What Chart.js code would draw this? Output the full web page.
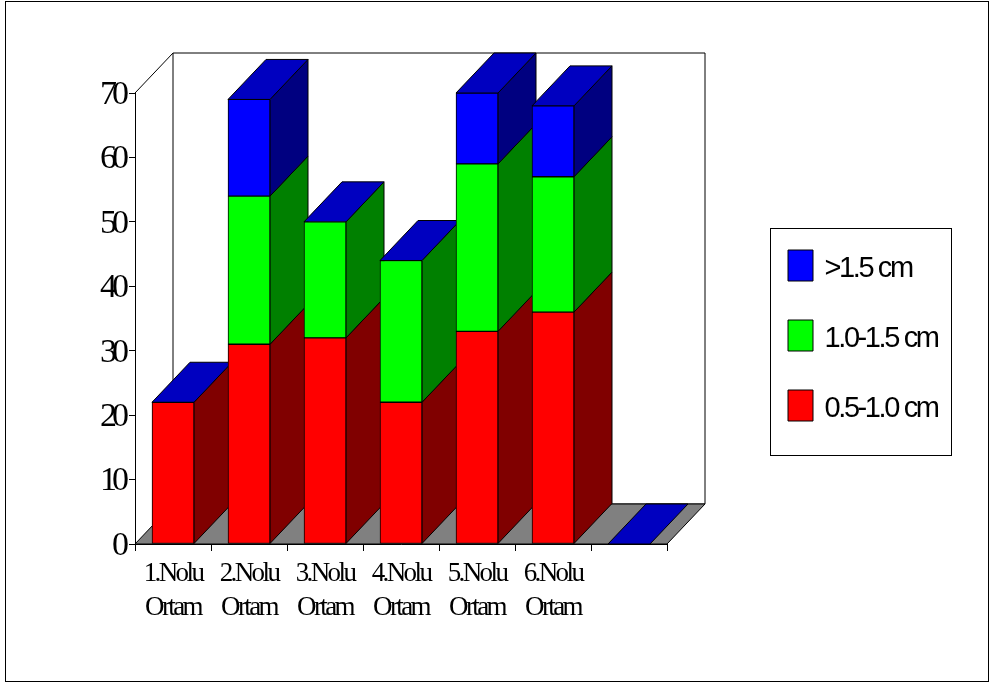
<!DOCTYPE html>
<html>
<head>
<meta charset="utf-8">
<title>Ortam</title>
<script src="https://cdn.jsdelivr.net/npm/chart.js@4"></script>
<style>
  html, body { margin: 0; padding: 0; background: #fff; }
  canvas { display: block; }
</style>
</head>
<body>
<canvas id="chart" width="997" height="682"></canvas>
<script>
const categories = [['1.Nolu', 'Ortam'], ['2.Nolu', 'Ortam'], ['3.Nolu', 'Ortam'], ['4.Nolu', 'Ortam'], ['5.Nolu', 'Ortam'], ['6.Nolu', 'Ortam'], ''];
const redValues = [22, 31, 32, 22, 33, 36, 0];
const greenValues = [0, 23, 18, 22, 26, 21, 0];
const blueValues = [0, 15, 0, 0, 11, 11, 0];
const yTicks = [0, 10, 20, 30, 40, 50, 60, 70];

// 3D look: everything behind the front faces is derived from the scales
const DEPTH_X = 38;
const DEPTH_Y = 40;
const sideColors = ['#800000', '#008000', '#000080'];
const TOP_COLOR = '#0000c0';

function poly(ctx, pts, fill) {
  ctx.beginPath();
  pts.forEach((p, i) => i ? ctx.lineTo(p[0], p[1]) : ctx.moveTo(p[0], p[1]));
  ctx.closePath();
  if (fill) {
    ctx.fillStyle = fill;
    ctx.fill();
  }
  ctx.stroke();
}

// the original text is squeezed, Chart.js has no option for that
function spaced(ctx, target, name, spacing) {
  const orig = target[name];
  target[name] = function (...args) {
    ctx.letterSpacing = spacing;
    orig.apply(this, args);
    ctx.letterSpacing = '0px';
  };
}

const depthPlugin = {
  id: 'depth',
  afterLayout(chart) {
    // legend sits in its own frame on the right, not in the plot
    const legend = chart.legend;
    legend.left = 749;
    legend.top = 211;
    legend.right = 996;
    legend.bottom = 500;
    if (!chart.$spaced) {
      chart.$spaced = true;
      const ctx = chart.ctx;
      spaced(ctx, chart.scales.y, 'drawLabels', '-5px');
      spaced(ctx, chart.scales.x, 'drawLabels', '-2.6px');
      spaced(ctx, legend, '_draw', '-2.4px');
      // legend text sits a little below the middle of its swatch
      const legendDraw = legend._draw;
      legend._draw = function () {
        const fillText = ctx.fillText;
        ctx.fillText = function (text, x, y, w) {
          fillText.call(ctx, text, x - 3, y + 3, w);
        };
        legendDraw.call(this);
        delete ctx.fillText;
      };
    }
  },
  beforeDraw(chart) {
    const ctx = chart.ctx;
    ctx.save();
    ctx.fillStyle = '#fff';
    ctx.fillRect(0, 0, chart.width, chart.height);
    ctx.strokeStyle = '#000';
    ctx.lineWidth = 1;
    ctx.strokeRect(5.5, 1.5, 983, 680);
    ctx.strokeRect(770.5, 228.5, 181, 227);
    ctx.restore();
  },
  beforeDatasetsDraw(chart) {
    const ctx = chart.ctx;
    const { left, right, top, bottom } = chart.chartArea;
    ctx.save();
    ctx.strokeStyle = '#000';
    ctx.lineWidth = 1;
    // back wall, floor, and the top-left diagonal
    poly(ctx, [[left + DEPTH_X, top - DEPTH_Y], [right + DEPTH_X, top - DEPTH_Y], [right + DEPTH_X, bottom - DEPTH_Y], [left + DEPTH_X, bottom - DEPTH_Y]], '#fff');
    poly(ctx, [[left, bottom], [left + DEPTH_X, bottom - DEPTH_Y], [right + DEPTH_X, bottom - DEPTH_Y], [right, bottom]], '#808080');
    ctx.beginPath();
    ctx.moveTo(left, top);
    ctx.lineTo(left + DEPTH_X, top - DEPTH_Y);
    ctx.stroke();

    // left to right, so each bar covers the side of the one before it
    categories.forEach((_, i) => {
      chart.data.datasets.forEach((ds, d) => {
        const el = chart.getDatasetMeta(d).data[i];
        const r = el.x + el.width / 2;
        if (el.base - el.y > 0) {
          poly(ctx, [[r, el.y], [r + DEPTH_X, el.y - DEPTH_Y], [r + DEPTH_X, el.base - DEPTH_Y], [r, el.base]], sideColors[d]);
        }
      });
      const last = chart.getDatasetMeta(chart.data.datasets.length - 1).data[i];
      const l = last.x - last.width / 2;
      const r = last.x + last.width / 2;
      poly(ctx, [[l, last.y], [l + DEPTH_X, last.y - DEPTH_Y], [r + DEPTH_X, last.y - DEPTH_Y], [r, last.y]], TOP_COLOR);
    });
    ctx.restore();
  },
};

new Chart(document.getElementById('chart'), {
  type: 'bar',
  data: {
    labels: categories,
    datasets: [
      { label: '0.5-1.0 cm', data: redValues, backgroundColor: '#ff0000' },
      { label: '1.0-1.5 cm', data: greenValues, backgroundColor: '#00ff00' },
      { label: '>1.5 cm', data: blueValues, backgroundColor: '#0000ff' },
    ],
  },
  options: {
    responsive: false,
    animation: false,
    devicePixelRatio: 1,
    barThickness: 42,
    borderColor: '#000',
    borderWidth: 1,
    borderSkipped: false,
    layout: { padding: { left: 0, right: 330, top: 93, bottom: 0 } },
    plugins: {
      tooltip: { enabled: false },
      legend: {
        position: 'chartArea',
        align: 'start',
        reverse: true,
        labels: {
          boxWidth: 25,
          boxHeight: 31,
          padding: 39,
          color: '#000',
          font: { family: '"Liberation Sans"', size: 29 },
        },
      },
    },
    scales: {
      x: {
        stacked: true,
        afterFit(scale) { scale.height = 138; },
        border: { color: '#000', width: 1 },
        grid: { drawOnChartArea: false, color: '#000', tickLength: 7 },
        ticks: {
          color: '#000',
          padding: 6,
          maxRotation: 0,
          autoSkip: false,
          font: { family: '"Liberation Serif"', size: 27, lineHeight: 1.26 },
        },
      },
      y: {
        stacked: true,
        min: 0,
        max: 70,
        afterFit(scale) { scale.width = 135; },
        afterBuildTicks(scale) { scale.ticks = yTicks.map(value => ({ value })); },
        border: { color: '#000', width: 1 },
        grid: { drawOnChartArea: false, color: '#000', tickLength: 6 },
        ticks: {
          color: '#000',
          padding: 5,
          labelOffset: 2,
          font: { family: '"Liberation Serif"', size: 34 },
        },
      },
    },
  },
  plugins: [depthPlugin],
});
</script>
</body>
</html>
